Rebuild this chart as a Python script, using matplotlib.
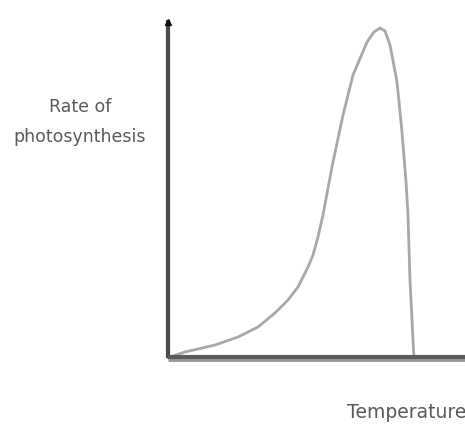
import matplotlib
matplotlib.use("Agg")
import matplotlib.pyplot as plt

# Data (arbitrary units)
temperature = [0.0, 0.33, 2.83, 7.83, 11.67, 15.0, 17.83, 20.0, 21.67, 23.33,
               24.17, 25.0, 25.83, 26.67, 27.5, 29.17, 30.83, 33.17, 34.33,
               35.33, 36.17, 37.0, 38.17, 39.0, 39.67, 40.0, 40.33, 40.67,
               40.83, 41.0]
rate = [0.0, 0.3, 1.83, 3.96, 6.4, 9.45, 13.72, 17.68, 21.65, 27.74,
        31.4, 36.9, 43.6, 51.8, 59.76, 74.09, 86.28, 96.34, 99.39,
        100.61, 99.7, 95.43, 84.15, 68.9, 53.66, 43.6, 23.78, 11.59,
        5.49, 0.0]
x_label = "Temperature"
y_label = "Rate of\nphotosynthesis"

W, H = 465, 425
fig = plt.figure(figsize=(W / 100, H / 100), dpi=100)
fig.patch.set_facecolor("white")

x0, y0 = 168, 358          # origin pixel (from top)
xmax_px, ytop_px = 465, 15
xlim = (0, (xmax_px - x0) / 6.0)
ylim = (0, (y0 - ytop_px) / 3.28)
ax = fig.add_axes([x0 / W, (H - y0) / H, (xmax_px - x0) / W, (y0 - ytop_px) / H])
ax.set_xlim(*xlim)
ax.set_ylim(*ylim)
ax.axis("off")

# curve
ax.plot(temperature, rate, color="#a8a8a8", lw=2.0, solid_capstyle="round",
        solid_joinstyle="round", clip_on=False, zorder=2)

# axes lines
ax.plot([0, 0], [0, ylim[1] - 1.5], color="#4a4a4a", lw=3.0, clip_on=False,
        zorder=3, solid_capstyle="butt")
ax.plot([0, xlim[1]], [0, 0], color="#9a9a9a", lw=5.0, clip_on=False,
        zorder=3, solid_capstyle="butt")
ax.plot([0, xlim[1]], [0.4, 0.4], color="#5a5a5a", lw=3.0, clip_on=False,
        zorder=4, solid_capstyle="butt")
# arrow tip
ax.plot([0], [ylim[1] - 2.0], marker="^", color="#111111", markersize=5,
        clip_on=False, zorder=5)

fig.text(80 / W, 1 - 122 / H, y_label, ha="center", va="center",
         fontsize=12.5, color="#5a5a5a", linespacing=1.9)
fig.text(347 / W, 1 - 412 / H, x_label, ha="left", va="center",
         fontsize=13.5, color="#5a5a5a")

fig.savefig("out.png", dpi=100, facecolor="white")
